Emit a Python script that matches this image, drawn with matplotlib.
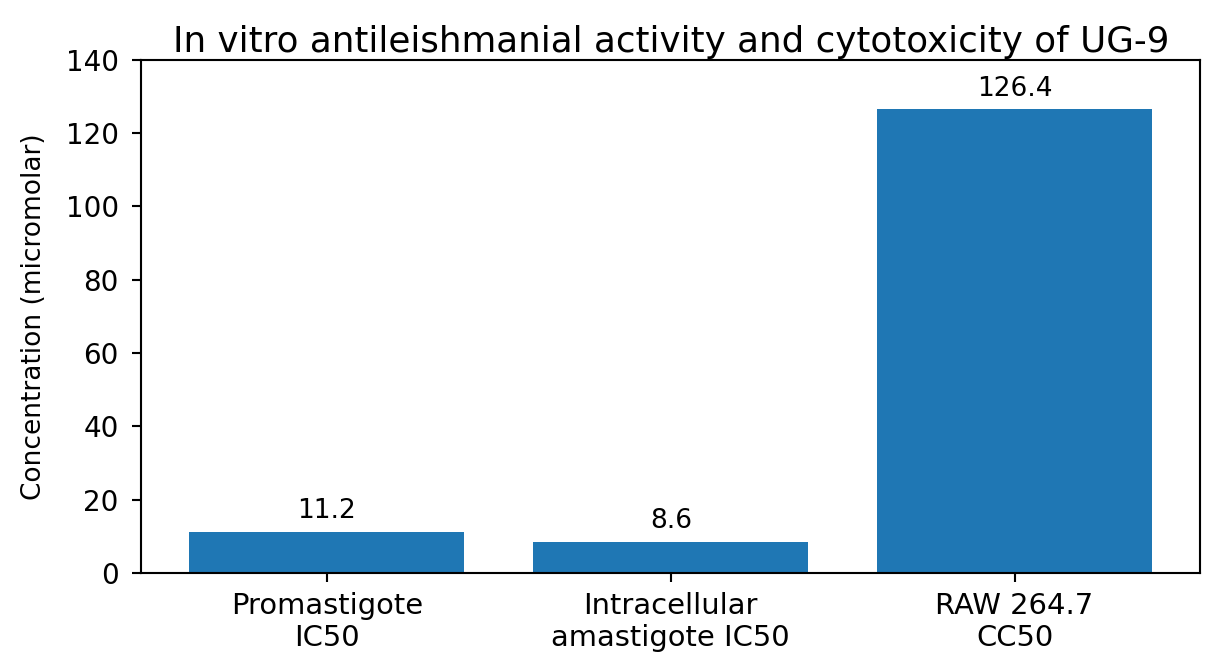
import matplotlib
matplotlib.use('Agg')
import matplotlib.pyplot as plt

categories = ['Promastigote\nIC50', 'Intracellular\namastigote IC50', 'RAW 264.7\nCC50']
values = [11.2, 8.6, 126.4]

fig, ax = plt.subplots(figsize=(1221 / 190, 669 / 190), dpi=190)
bars = ax.bar(categories, values, color='#1f77b4')
ax.bar_label(bars, labels=[f'{v}' for v in values], padding=3)
ax.set_ylim(0, 140)
ax.tick_params(axis='x', labelsize=11)
ax.tick_params(axis='y', labelsize=10.5, pad=5)
ax.set_ylabel('Concentration (micromolar)', labelpad=7)
ax.set_title('In vitro antileishmanial activity and cytotoxicity of UG-9', fontsize=13.5, pad=3)
fig.subplots_adjust(left=0.1157, right=0.983, top=0.911, bottom=0.1432)
fig.savefig('out.png', dpi=190)
